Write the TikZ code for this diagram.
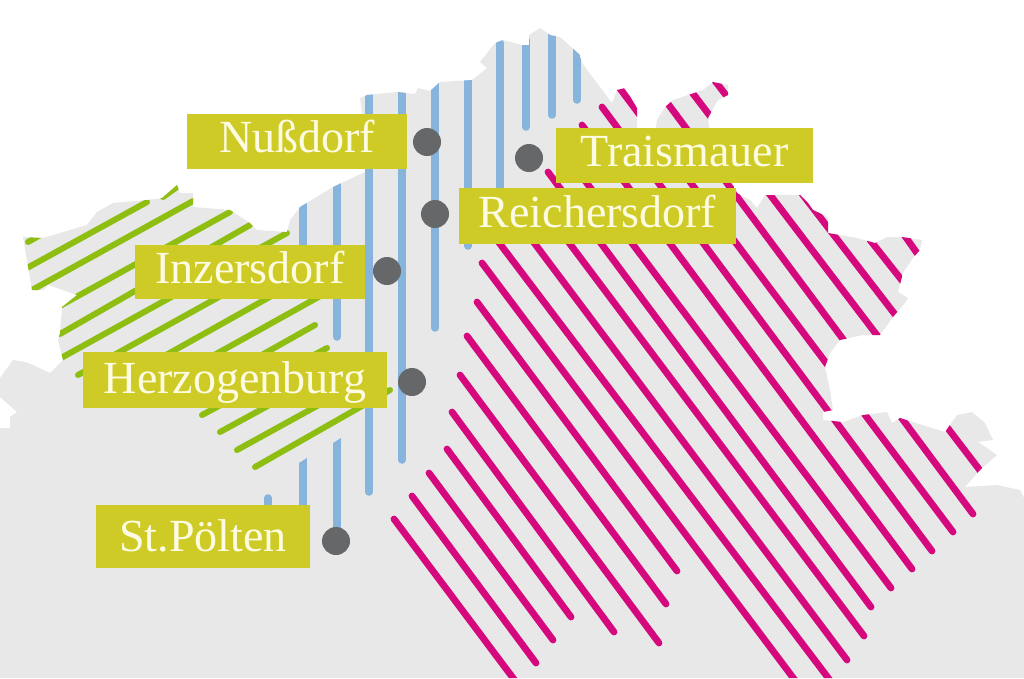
\documentclass[tikz,border=0pt]{standalone}
\usepackage{fontspec}
\setmainfont{Liberation Serif}
\definecolor{mapgray}{HTML}{E8E8E8}
\definecolor{stripegreen}{HTML}{8FBE12}
\definecolor{stripeblue}{HTML}{86B4DC}
\definecolor{stripepink}{HTML}{D6087E}
\definecolor{labelyellow}{HTML}{CFCB26}
\definecolor{labeltext}{HTML}{FDFBE2}
\definecolor{dotgray}{HTML}{666768}
\tikzset{
  greenstripe/.style={draw=stripegreen,line width=6pt,line cap=round},
  bluestripe/.style={draw=stripeblue,line width=7.5pt,line cap=round},
  pinkstripe/.style={draw=stripepink,line width=6.8pt,line cap=round},
  placelabel/.style={fill=labelyellow,text=labeltext,inner sep=0pt,text height=29pt,text depth=7pt,
    font=\fontsize{46}{46}\selectfont},
  placedot/.style={circle,fill=dotgray,inner sep=0pt,minimum size=28pt}
}
\def\mapoutline{(0,678) -- (0,428) -- (10,428) -- (10,417) -- (17,412) -- (0,397) -- (0,378) -- (13,360)
  -- (25,362) -- (33,365) -- (50,373) -- (63,360) -- (58,340) -- (60,333) -- (62,307) -- (77,295)
  -- (48,285) -- (43,290) -- (32,290) -- (23,237) -- (43,238) -- (87,225) -- (97,212) -- (113,203)
  -- (147,200) -- (162,198) -- (177,185) -- (180,193) -- (193,193) -- (193,207) -- (230,210)
  -- (250,223) -- (257,230) -- (287,232) -- (290,220) -- (300,207) -- (333,187) -- (365,172)
  -- (362,113) -- (360,98) -- (367,95) -- (398,92) -- (415,94) -- (418,88) -- (430,91) -- (440,82)
  -- (472,80) -- (487,68) -- (480,62) -- (495,43) -- (503,40) -- (522,45) -- (529,45) -- (529,35)
  -- (540,28) -- (550,35) -- (560,37) -- (580,55) -- (582,63) -- (612,103) -- (617,90) -- (625,88)
  -- (637,108) -- (637,135) -- (655,135) -- (657,120) -- (665,107) -- (673,100) -- (703,90) -- (713,82)
  -- (728,85) -- (728,95) -- (718,100) -- (708,118) -- (710,135) -- (737,193) -- (750,200) -- (757,208)
  -- (765,195) -- (800,195) -- (808,203) -- (813,210) -- (828,217) -- (828,233) -- (857,238)
  -- (875,243) -- (887,237) -- (902,237) -- (922,240) -- (920,250) -- (913,258) -- (903,273)
  -- (898,292) -- (908,298) -- (905,303) -- (893,317) -- (880,335) -- (863,335) -- (840,340)
  -- (830,353) -- (825,367) -- (830,390) -- (833,410) -- (823,412) -- (823,420) -- (843,422)
  -- (863,415) -- (887,412) -- (892,423) -- (900,418) -- (945,432) -- (957,415) -- (972,412)
  -- (985,423) -- (993,440) -- (978,442) -- (987,448) -- (997,455) -- (980,470) -- (965,487)
  -- (997,485) -- (1020,490) -- (1024,498) -- (1024,678) -- cycle}
\begin{document}
\begin{tikzpicture}[x=1pt,y=-1pt]
\useasboundingbox (0,0) rectangle (1024,678);
\path[fill=mapgray] \mapoutline;
\begin{scope}
\clip \mapoutline;
% green area
\path[greenstripe] (28,242) -- (60,224);
\path[greenstripe] (27,268) -- (147,202);
\path[greenstripe] (163,197) -- (177,187);
\path[greenstripe] (32,290) -- (193,201);
\path[greenstripe] (58,307) -- (230,212);
\path[greenstripe] (60,334) -- (250,225);
\path[greenstripe] (61,358) -- (287,233);
\path[greenstripe] (78,375) -- (300,252);
\path[greenstripe] (150,364) -- (300,280);
\path[greenstripe] (200,363) -- (340,285);
\path[greenstripe] (180,401) -- (315,325);
\path[greenstripe] (202,415) -- (327,348);
\path[greenstripe] (220,432) -- (350,361);
\path[greenstripe] (237,450) -- (375,374);
\path[greenstripe] (255,467) -- (390,390);
% blue area
\path[bluestripe] (577,40) -- (577,100);
\path[bluestripe] (552,30) -- (552,115);
\path[bluestripe] (526,40) -- (526,127);
\path[bluestripe] (500,43) -- (500,200);
\path[bluestripe] (468,70) -- (468,246);
\path[bluestripe] (435,80) -- (435,328);
\path[bluestripe] (402,85) -- (402,460);
\path[bluestripe] (369,85) -- (369,492);
\path[bluestripe] (337,180) -- (337,337);
\path[bluestripe] (303,195) -- (303,270);
\path[bluestripe] (268,498) -- (268,520);
\path[fill=stripeblue] (333.2,443) -- (340.8,438) -- (340.8,540) -- (333.2,540) -- cycle;
\path[fill=stripeblue] (299.2,463) -- (306.8,458) -- (306.8,520) -- (299.2,520) -- cycle;
% pink area
\path[pinkstripe] (394,519) -- (516,682);
\path[pinkstripe] (412,496) -- (536,663);
\path[pinkstripe] (429,473) -- (553,640);
\path[pinkstripe] (447,449) -- (571,617);
\path[pinkstripe] (452,412) -- (614,632);
\path[pinkstripe] (460,375) -- (659,643);
\path[pinkstripe] (467,336) -- (666,604);
\path[pinkstripe] (477,302) -- (677,571);
\path[pinkstripe] (482,263) -- (797,683);
\path[pinkstripe] (491,232) -- (832,683);
\path[pinkstripe] (526,232) -- (847,660);
\path[pinkstripe] (561,232) -- (864,636);
\path[pinkstripe] (548,172) -- (871,607);
\path[pinkstripe] (562,150) -- (891,588);
\path[pinkstripe] (582,125) -- (912,569);
\path[pinkstripe] (602,107) -- (932,551);
\path[pinkstripe] (606,70) -- (953,532);
\path[pinkstripe] (654,85) -- (973,514);
\path[pinkstripe] (675,70) -- (985,477);
\path[pinkstripe] (712,77) -- (897,317);
\path[pinkstripe] (870,240) -- (904,283);
\path[pinkstripe] (900,229) -- (919,256);
\end{scope}
\node[placelabel,minimum width=220pt,minimum height=55pt] (nussdorf) at (297,141) {Nußdorf};
\node[placelabel,minimum width=257pt,minimum height=55pt] (traismauer) at (684.5,155.5) {Traismauer};
\node[placelabel,minimum width=277pt,minimum height=56pt] (reichersdorf) at (597.5,216) {Reichersdorf};
\node[placelabel,minimum width=230pt,minimum height=54pt] (inzersdorf) at (250,272) {Inzersdorf};
\node[placelabel,minimum width=304pt,minimum height=56pt,text height=33pt] (herzogenburg) at (235,380) {Herzogenburg};
\node[placelabel,minimum width=214pt,minimum height=63pt,text height=37pt] (stpoelten) at (203,536.5) {St.Pölten};
\node[placedot] (dotnussdorf) at (427,142) {};
\node[placedot] (dottraismauer) at (529,158) {};
\node[placedot] (dotreichersdorf) at (435,214) {};
\node[placedot] (dotinzersdorf) at (387,271) {};
\node[placedot] (dotherzogenburg) at (412,382) {};
\node[placedot] (dotstpoelten) at (336,541) {};
\end{tikzpicture}
\end{document}
